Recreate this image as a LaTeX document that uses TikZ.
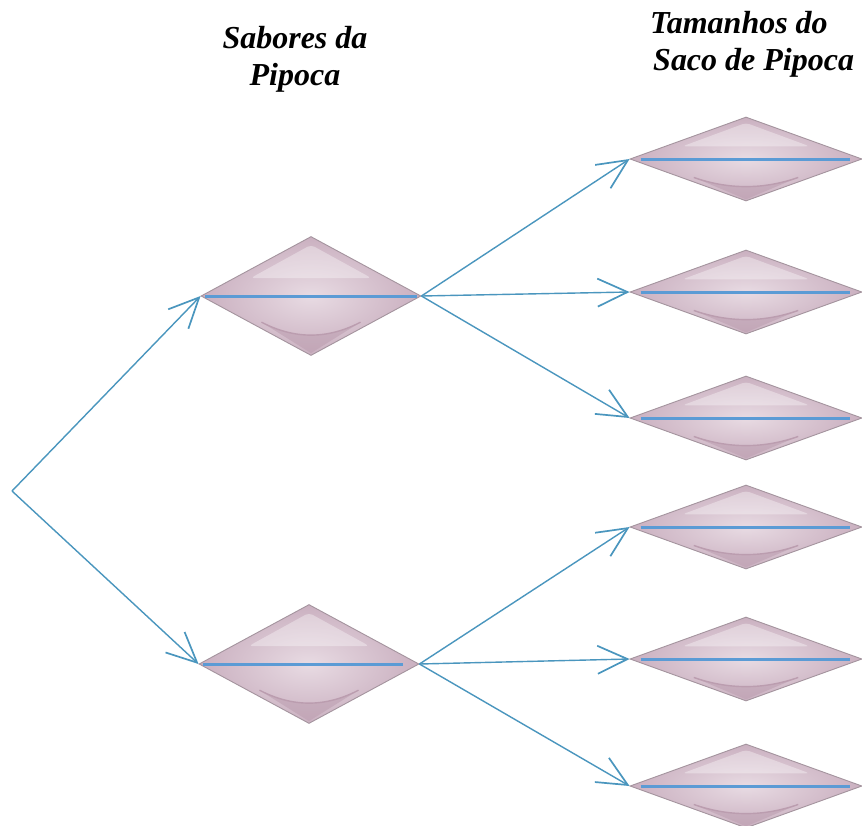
\documentclass[tikz,border=0pt]{standalone}
\usepackage{fontspec}
\setmainfont{Liberation Serif}
\usetikzlibrary{shapes.geometric,arrows.meta,calc}
\definecolor{arrowblue}{HTML}{4A96BE}
\definecolor{lineblue}{HTML}{5B9BD5}
\definecolor{gemedge}{HTML}{A4949E}
\definecolor{geminner}{HTML}{E8DBE3}
\definecolor{gemouter}{HTML}{CAB0C0}
\definecolor{gemdark}{HTML}{BB9DAF}
\tikzset{
 gem/.style={diamond, draw=gemedge, line width=0.9pt, inner sep=0pt, inner color=geminner, outer color=gemouter},
 gembig/.style={gem, minimum width=220pt, minimum height=119pt},
 gemsmall/.style={gem, minimum width=232pt, minimum height=84pt},
 conn/.style={draw=arrowblue, line width=1.4pt, -{Straight Barb[length=30pt,width=28pt,line width=1.7pt]}},
 titletext/.style={font=\fontsize{32}{37}\selectfont\bfseries\itshape, inner sep=0pt}
}
\newcommand\gemdeco[5]{%
 \fill[white, opacity=0.35, rounded corners=4pt] ($(#1)+(0,-0.86*#3)$) -- ($(#1)+(0.55*#2,-0.30*#3)$) -- ($(#1)+(-0.55*#2,-0.30*#3)$) -- cycle;
 \fill[gemdark, opacity=0.55] ($(#1)+(-0.45*#2,0.44*#3)$) .. controls ($(#1)+(-0.15*#2,0.73*#3)$) and ($(#1)+(0.15*#2,0.73*#3)$) .. ($(#1)+(0.45*#2,0.44*#3)$) -- ($(#1)+(0,0.96*#3)$) -- cycle;
 \draw[gemdark, line width=1.4pt] ($(#1)+(-0.45*#2,0.44*#3)$) .. controls ($(#1)+(-0.15*#2,0.73*#3)$) and ($(#1)+(0.15*#2,0.73*#3)$) .. ($(#1)+(0.45*#2,0.44*#3)$);
 \draw[lineblue, line width=3pt] ($(#1.west)+(#4,0)$) -- ($(#1.east)+(-#5,0)$);
}
\begin{document}
\begin{tikzpicture}[x=1pt,y=-1pt]
\useasboundingbox (0,0) rectangle (862,825);
\fill[white] (0,0) rectangle (862,825);
% titles
\node[titletext, align=center, anchor=north] (t1) at (295,26) {Sabores da\\Pipoca};
\node[titletext, align=left, anchor=north west] (t2) at (650,11) {Tamanhos do\\\hspace*{3pt}Saco de Pipoca};
% diamonds
\node[gembig] (a) at (311,296) {};
\node[gembig] (b) at (309,664) {};
\node[gemsmall] (s1) at (746,159) {};
\node[gemsmall] (s2) at (746,292) {};
\node[gemsmall] (s3) at (746,418) {};
\node[gemsmall] (s4) at (746,527) {};
\node[gemsmall] (s5) at (746,659) {};
\node[gemsmall] (s6) at (746,786) {};
\gemdeco{a}{110}{59.5}{4}{4}
\gemdeco{b}{110}{59.5}{4}{16}
\foreach \n in {s1,s2,s3,s4,s5,s6}{\gemdeco{\n}{116}{42}{11}{12}}
% connectors
\coordinate (r) at (12,491);
\draw[conn] (r) -- (a.west);
\draw[conn] (r) -- (b.west);
\draw[conn] (a.east) -- (s1.west);
\draw[conn] (a.east) -- (s2.west);
\draw[conn] (a.east) -- (s3.west);
\draw[conn] (b.east) -- (s4.west);
\draw[conn] (b.east) -- (s5.west);
\draw[conn] (b.east) -- (s6.west);
\end{tikzpicture}
\end{document}
